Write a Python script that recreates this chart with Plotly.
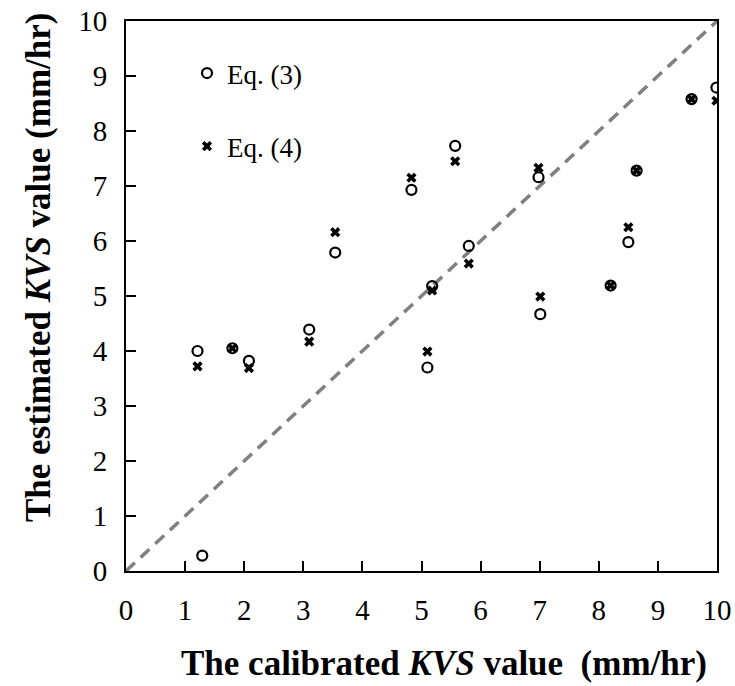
import plotly.graph_objects as go

# Eq. (3) estimates
cal3 = [1.21, 1.29, 1.80, 2.08, 3.10, 3.54, 4.83, 5.10, 5.18, 5.57, 5.80, 6.98, 7.01, 8.20, 8.50, 8.64, 9.57, 9.99]
est3 = [4.00, 0.28, 4.05, 3.82, 4.39, 5.79, 6.93, 3.70, 5.18, 7.73, 5.91, 7.16, 4.67, 5.19, 5.98, 7.28, 8.58, 8.79]
# Eq. (4) estimates
cal4 = [1.21, 1.80, 2.08, 3.10, 3.54, 4.83, 5.10, 5.18, 5.57, 5.80, 6.98, 7.01, 8.20, 8.50, 8.64, 9.57, 9.99]
est4 = [3.72, 4.05, 3.69, 4.17, 6.16, 7.15, 3.99, 5.10, 7.45, 5.59, 7.33, 4.99, 5.19, 6.25, 7.28, 8.58, 8.55]
# 1:1 line
line_x = [0, 10]
line_y = [0, 10]
ticks = list(range(0, 11))

FONT = "Liberation Serif"

fig = go.Figure()
fig.add_trace(go.Scatter(x=line_x, y=line_y, mode="lines", showlegend=False,
                         line=dict(color="#808080", width=3.5, dash="12px,8px")))
fig.add_trace(go.Scatter(x=cal3, y=est3, mode="markers", name="Eq. (3)", legendgroup="a",
                         marker=dict(symbol="circle-open", size=10, color="black",
                                     line=dict(width=2.2, color="black"))))
fig.add_trace(go.Scatter(x=cal4, y=est4, mode="markers", name="Eq. (4)", legendgroup="b",
                         marker=dict(symbol="x", size=9, color="black",
                                     line=dict(width=0))))

axis_common = dict(range=[0, 10], tickvals=ticks, ticks="inside", ticklen=10, tickwidth=2,
                   tickcolor="black", showline=True, linewidth=2, linecolor="black",
                   mirror=True, showgrid=False, zeroline=False, automargin=False,
                   tickfont=dict(family=FONT, size=29, color="black"))

fig.update_xaxes(**axis_common, ticklabelstandoff=12)
fig.update_yaxes(**axis_common, ticklabelstandoff=11)

fig.add_annotation(text="<b>The calibrated <i>KVS</i> value  (mm/hr)</b>", xref="paper", yref="paper",
                   x=(444 - 126) / 591, y=-(663 - 571) / 550, showarrow=False,
                   font=dict(family=FONT, size=35, color="black"), xanchor="center", yanchor="middle")
fig.add_annotation(text="<b>The estimated <i>KVS</i> value (mm/hr)</b>", xref="paper", yref="paper",
                   x=-(126 - 38) / 591, y=(571 - 268) / 550, showarrow=False, textangle=-90,
                   font=dict(family=FONT, size=35, color="black"), xanchor="center", yanchor="middle")

fig.update_layout(
    width=735, height=686,
    margin=dict(l=126, r=18, t=21, b=115, autoexpand=False),
    paper_bgcolor="white", plot_bgcolor="white",
    showlegend=True,
    legend=dict(x=(187 - 126) / 591, y=1 - (49 - 21) / 550, xanchor="left", yanchor="top",
                bgcolor="rgba(0,0,0,0)", font=dict(family=FONT, size=27, color="black"),
                tracegroupgap=35, traceorder="grouped", itemwidth=30),
)

fig.write_html("out.html")
